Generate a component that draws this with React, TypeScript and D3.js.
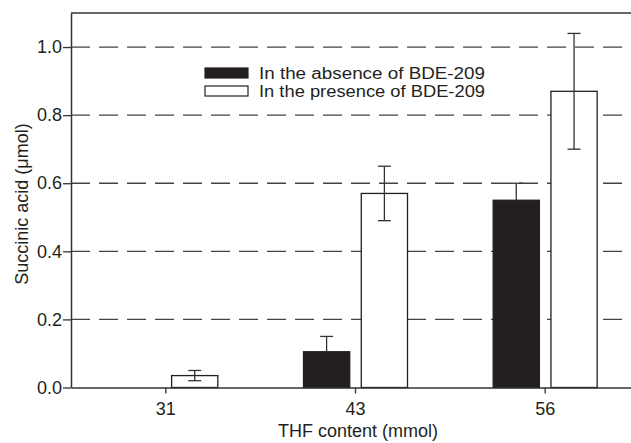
import React, { useEffect, useRef } from 'react';
import * as d3 from 'd3';

// data
const categories = ['31', '43', '56'];
const seriesNames = ['In the absence of BDE-209', 'In the presence of BDE-209'];
const absence = [0, 0.105, 0.55];
const absenceErr = [0, 0.045, 0.05];
const presence = [0.035, 0.57, 0.87];
const presenceErr = [0.015, 0.08, 0.17];
const yTicks = [0, 0.2, 0.4, 0.6, 0.8, 1.0];

const width = 631, height = 443;
const margin = { top: 13, left: 71, bottom: 387.5 };
const font = '"Liberation Sans", Arial, Helvetica, sans-serif';
const ink = '#231f20';

function App() {
  const ref = useRef<SVGSVGElement>(null);

  useEffect(() => {
    const svg = d3.select(ref.current);
    svg.selectAll('*').remove();

    const x = d3.scaleBand().domain(categories).range([margin.left, 640]).padding(0);
    const inner = d3.scaleBand().domain(seriesNames).range([-52, 52]).paddingInner(0.2).paddingOuter(0);
    const y = d3.scaleLinear().domain([0, 1.1]).range([margin.bottom, margin.top]);

    // dashed grid
    svg.append('g')
      .selectAll('line')
      .data(yTicks.filter(t => t > 0))
      .join('line')
      .attr('x1', margin.left).attr('x2', width)
      .attr('y1', d => y(d)).attr('y2', d => y(d))
      .attr('stroke', '#444').attr('stroke-width', 1.3)
      .attr('stroke-dasharray', '19,9');

    // top frame line
    svg.append('line')
      .attr('x1', margin.left).attr('x2', width)
      .attr('y1', margin.top).attr('y2', margin.top)
      .attr('stroke', '#333').attr('stroke-width', 1.4);

    const rows = categories.map((c, i) => [
      { cat: c, s: seriesNames[0], v: absence[i], e: absenceErr[i] },
      { cat: c, s: seriesNames[1], v: presence[i], e: presenceErr[i] },
    ]).flat().filter(d => d.v > 0);

    const cx = (d: any) => x(d.cat)! + x.bandwidth() / 2 + inner(d.s)!;

    svg.append('g')
      .selectAll('rect')
      .data(rows)
      .join('rect')
      .attr('x', d => cx(d))
      .attr('y', d => y(d.v))
      .attr('width', inner.bandwidth())
      .attr('height', d => y(0) - y(d.v))
      .attr('fill', d => d.s === seriesNames[0] ? ink : '#fff')
      .attr('stroke', ink)
      .attr('stroke-width', 1.3);

    // error bars (black bars only show the upper half)
    const eb = svg.append('g').attr('stroke', '#333').attr('stroke-width', 1.3);
    rows.forEach(d => {
      const mx = cx(d) + inner.bandwidth() / 2;
      const lo = d.s === seriesNames[0] ? d.v : d.v - d.e;
      const hi = d.v + d.e;
      eb.append('line').attr('x1', mx).attr('x2', mx).attr('y1', y(lo)).attr('y2', y(hi));
      eb.append('line').attr('x1', mx - 6.5).attr('x2', mx + 6.5).attr('y1', y(hi)).attr('y2', y(hi));
      if (d.s !== seriesNames[0]) {
        eb.append('line').attr('x1', mx - 6.5).attr('x2', mx + 6.5).attr('y1', y(lo)).attr('y2', y(lo));
      }
    });

    // axes
    const xAxis = svg.append('g')
      .attr('transform', `translate(0,${margin.bottom})`)
      .call(d3.axisBottom(x).tickSize(6).tickSizeOuter(0));
    xAxis.select('.domain').attr('stroke', '#333').attr('stroke-width', 1.5);
    xAxis.selectAll('.tick line').attr('stroke', '#333').attr('stroke-width', 1.3);
    xAxis.selectAll('.tick text')
      .attr('font-family', font).attr('font-size', 18).attr('fill', ink).attr('dy', '1.0em');

    const yAxis = svg.append('g')
      .attr('transform', `translate(${margin.left},0)`)
      .call(d3.axisLeft(y).tickValues(yTicks).tickFormat(d3.format('.1f')).tickSize(8).tickPadding(1).tickSizeOuter(0));
    yAxis.select('.domain').attr('stroke', '#333').attr('stroke-width', 1.5);
    yAxis.selectAll('.tick line').attr('stroke', '#333').attr('stroke-width', 1.3);
    yAxis.selectAll('.tick text')
      .attr('font-family', font).attr('font-size', 18).attr('fill', ink);

    svg.append('text')
      .attr('x', 358).attr('y', 437)
      .attr('text-anchor', 'middle')
      .attr('font-family', font).attr('font-size', 18).attr('fill', ink)
      .text('THF content (mmol)');

    svg.append('text')
      .attr('transform', 'translate(28,204) rotate(-90)')
      .attr('text-anchor', 'middle')
      .attr('font-family', font).attr('font-size', 18).attr('fill', ink)
      .text('Succinic acid (μmol)');

    // legend
    const lg = svg.append('g').attr('transform', 'translate(205,68)');
    seriesNames.forEach((s, i) => {
      lg.append('rect')
        .attr('x', 0).attr('y', i * 18)
        .attr('width', 43).attr('height', 10)
        .attr('fill', i === 0 ? ink : '#fff')
        .attr('stroke', ink).attr('stroke-width', 1.2);
      lg.append('text')
        .attr('x', 54).attr('y', i * 18 + 10.5)
        .attr('font-family', font).attr('font-size', 16).attr('fill', ink)
        .attr('textLength', 226).attr('lengthAdjust', 'spacingAndGlyphs')
        .text(s);
    });
  }, []);

  return (
    <div style={{ position: 'absolute', left: 0, top: 0 }}>
      <svg ref={ref} width={width} height={height} style={{ display: 'block', background: '#fff' }} />
    </div>
  );
}

export default App;
